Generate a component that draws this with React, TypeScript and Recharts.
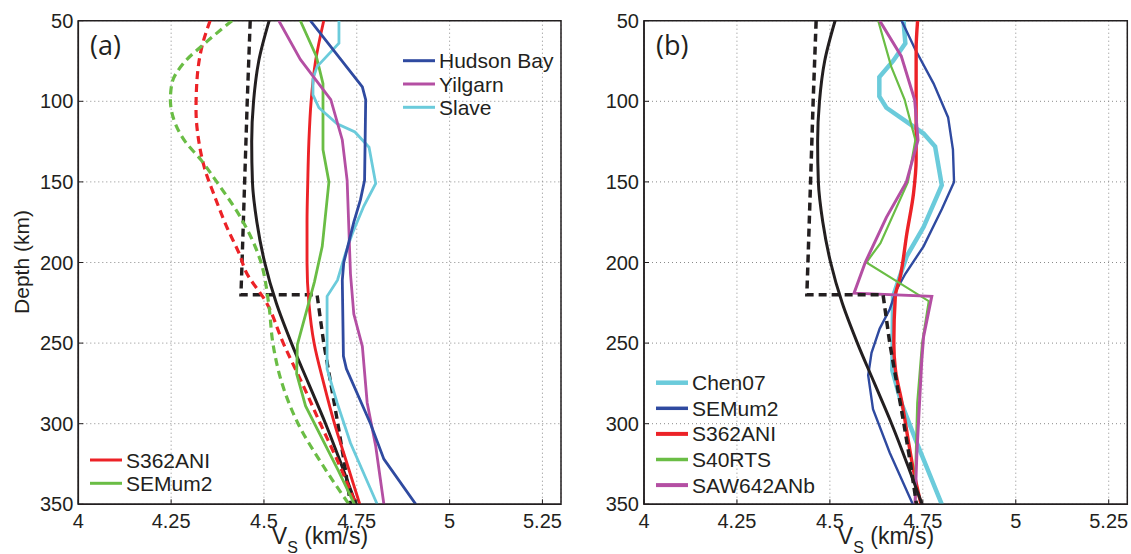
import React from 'react';
import { LineChart, Line, XAxis, YAxis, CartesianGrid, ReferenceArea } from 'recharts';

// Axis ticks
const DEPTH_TICKS = [50, 100, 150, 200, 250, 300, 350];
const VS_TICKS = [4, 4.25, 4.5, 4.75, 5, 5.25];

// Each series: [depth (km), Vs (km/s)]
const REF_SMOOTH: [number, number][] = [
  [50, 4.514], [75, 4.486], [100, 4.472], [125, 4.467], [150, 4.469], [175, 4.481], [200, 4.502],
  [225, 4.533], [250, 4.574], [275, 4.62], [300, 4.666], [325, 4.708], [350, 4.748],
];
const REF_LAYERED: [number, number][] = [
  [50, 4.463], [100, 4.455], [150, 4.448], [200, 4.441], [220, 4.438], [220, 4.643],
  [250, 4.661], [275, 4.68], [300, 4.699], [325, 4.717], [350, 4.733],
];

// Panel (a)
const A_RED_DASHED: [number, number][] = [
  [50, 4.355], [66, 4.333], [89, 4.319], [105, 4.317], [124, 4.324], [143, 4.342], [157, 4.364],
  [178, 4.4], [196, 4.436], [205, 4.45], [225, 4.507], [250, 4.552], [275, 4.603], [300, 4.652],
  [325, 4.702], [350, 4.748],
];
const A_GREEN_DASHED: [number, number][] = [
  [50, 4.414], [63, 4.346], [76.5, 4.283], [89, 4.252], [99, 4.248], [113.7, 4.261], [125, 4.288],
  [136, 4.329], [150, 4.373], [173.6, 4.441], [198.5, 4.49], [226, 4.513], [250, 4.524],
  [273, 4.546], [300, 4.592], [326.7, 4.661], [350, 4.729],
];
const A_S362ANI: [number, number][] = [
  [50, 4.661], [75, 4.639], [100, 4.627], [125, 4.621], [150, 4.618], [175, 4.616], [200, 4.616],
  [225, 4.621], [250, 4.635], [275, 4.661], [300, 4.69], [325, 4.724], [350, 4.758],
];
const A_SEMUM2: [number, number][] = [
  [50, 4.598], [72, 4.641], [89, 4.659], [130, 4.659], [150, 4.675], [190, 4.657], [212, 4.636],
  [251, 4.59], [269, 4.588], [289, 4.612], [329, 4.7], [350, 4.744],
];
const A_HUDSON_BAY: [number, number][] = [
  [50, 4.625], [91, 4.765], [99, 4.774], [149, 4.771], [161, 4.76], [175, 4.742], [200, 4.715],
  [211, 4.711], [258, 4.714], [266, 4.722], [300, 4.787], [322, 4.823], [350, 4.909],
];
const A_YILGARN: [number, number][] = [
  [50, 4.54], [74, 4.598], [99, 4.68], [124, 4.711], [149, 4.724], [207, 4.733], [232, 4.742],
  [252, 4.765], [287, 4.778], [314, 4.801], [350, 4.823],
];
const A_SLAVE: [number, number][] = [
  [50, 4.702], [64, 4.702], [78.5, 4.643], [86, 4.632], [96, 4.632], [104, 4.648], [114, 4.697],
  [119, 4.745], [128.5, 4.783], [151, 4.801], [165, 4.769], [182, 4.738], [194, 4.72], [211, 4.698],
  [221, 4.67], [266, 4.67], [287, 4.697], [312, 4.733], [350, 4.805],
];

// Panel (b)
const B_CHEN07: [number, number][] = [
  [50, 4.698], [64, 4.703], [75, 4.67], [85, 4.633], [97, 4.633], [104, 4.652], [120, 4.752],
  [128, 4.783], [152, 4.801], [178, 4.752], [196, 4.707], [210, 4.686], [221, 4.67], [267, 4.668],
  [287, 4.692], [312, 4.734], [350, 4.801],
];
const B_SEMUM2: [number, number][] = [
  [50, 4.693], [68, 4.73], [89, 4.779], [110, 4.818], [130, 4.831], [150, 4.834], [167, 4.801],
  [190, 4.752], [207, 4.703], [217, 4.679], [229, 4.661], [241, 4.634], [256, 4.612], [270, 4.603],
  [291, 4.616], [318, 4.661], [350, 4.723],
];
const B_S362ANI: [number, number][] = [
  [50, 4.736], [68, 4.732], [100, 4.732], [136, 4.732], [157, 4.725], [182, 4.707], [209, 4.689],
  [221, 4.676], [250, 4.672], [266, 4.676], [287, 4.694], [312, 4.712], [329, 4.725], [350, 4.745],
];
const B_S40RTS: [number, number][] = [
  [50, 4.63], [78.5, 4.665], [99, 4.701], [124, 4.73], [150, 4.71], [188, 4.636], [200, 4.598],
  [224, 4.766], [250, 4.748], [287, 4.735], [329, 4.73], [350, 4.73],
];
const B_SAW642ANB: [number, number][] = [
  [50, 4.634], [72, 4.692], [99, 4.728], [124, 4.737], [150, 4.706], [172, 4.652], [200, 4.595],
  [219, 4.565], [221, 4.774], [246, 4.752], [261, 4.747], [318, 4.734], [350, 4.729],
];

const LEGEND_A_TOP = ['Hudson Bay', 'Yilgarn', 'Slave'];
const LEGEND_A_BOTTOM = ['S362ANI', 'SEMum2'];
const LEGEND_B = ['Chen07', 'SEMum2', 'S362ANI', 'S40RTS', 'SAW642ANb'];

const C = {
  red: '#ec2227',
  green: '#6abd45',
  blue: '#2f4aa0',
  magenta: '#b44fa3',
  cyan: '#6bcbdb',
  black: '#231f20',
};
const FONT = "'Liberation Sans', Arial, Helvetica, sans-serif";

type Series = {
  key: string;
  pts: [number, number][];
  color: string;
  width: number;
  dash?: string;
  curve: 'linear' | 'monotoneY';
};

const rows = (pts: [number, number][]) => pts.map(([d, v]) => ({ d, v }));

const SERIES_A: Series[] = [
  { key: 'refSmooth', pts: REF_SMOOTH, color: C.black, width: 3, curve: 'monotoneY' },
  { key: 'refLayered', pts: REF_LAYERED, color: C.black, width: 3.4, dash: '8 5', curve: 'linear' },
  { key: 'redDashed', pts: A_RED_DASHED, color: C.red, width: 3.2, dash: '8 5', curve: 'monotoneY' },
  { key: 'greenDashed', pts: A_GREEN_DASHED, color: C.green, width: 3.2, dash: '8 5', curve: 'monotoneY' },
  { key: 's362', pts: A_S362ANI, color: C.red, width: 2.9, curve: 'monotoneY' },
  { key: 'semum2', pts: A_SEMUM2, color: C.green, width: 2.8, curve: 'linear' },
  { key: 'slave', pts: A_SLAVE, color: C.cyan, width: 2.8, curve: 'linear' },
  { key: 'yilgarn', pts: A_YILGARN, color: C.magenta, width: 2.8, curve: 'linear' },
  { key: 'hudson', pts: A_HUDSON_BAY, color: C.blue, width: 2.8, curve: 'linear' },
];

const SERIES_B: Series[] = [
  { key: 'chen07', pts: B_CHEN07, color: C.cyan, width: 4.5, curve: 'linear' },
  { key: 'semum2', pts: B_SEMUM2, color: C.blue, width: 2.4, curve: 'linear' },
  { key: 's362', pts: B_S362ANI, color: C.red, width: 3.4, curve: 'monotoneY' },
  { key: 's40rts', pts: B_S40RTS, color: C.green, width: 2.2, curve: 'linear' },
  { key: 'saw642', pts: B_SAW642ANB, color: C.magenta, width: 3, curve: 'linear' },
  { key: 'refSmooth', pts: REF_SMOOTH, color: C.black, width: 3, curve: 'monotoneY' },
  { key: 'refLayered', pts: REF_LAYERED, color: C.black, width: 3.5, dash: '8 5', curve: 'linear' },
];

const tickStyle = { fill: C.black, fontSize: 20, fontFamily: FONT };
const tickLineStyle = { stroke: C.black, strokeWidth: 1 };

function Panel(props: { series: Series[]; width: number; yAxisWidth: number; right: number }) {
  const { series, width, yAxisWidth, right } = props;
  return (
    <LineChart
      layout="vertical"
      width={width}
      height={554}
      margin={{ top: 20.7, right, bottom: 19.7, left: 0 }}
    >
      <CartesianGrid stroke="#8a8a8a" strokeDasharray="1 3" strokeWidth={1} />
      <XAxis
        type="number"
        dataKey="v"
        domain={[4, 5.3]}
        ticks={VS_TICKS}
        allowDataOverflow
        height={30}
        tick={tickStyle}
        tickSize={-5}
        tickMargin={14}
        tickLine={tickLineStyle}
        axisLine={{ stroke: C.black, strokeWidth: 1.5 }}
      />
      <XAxis
        xAxisId="top"
        orientation="top"
        type="number"
        dataKey="v"
        domain={[4, 5.3]}
        ticks={VS_TICKS}
        allowDataOverflow
        height={0}
        tick={false}
        tickSize={-5}
        tickLine={tickLineStyle}
        axisLine={{ stroke: C.black, strokeWidth: 1.5 }}
      />
      <YAxis
        type="number"
        dataKey="d"
        domain={[50, 350]}
        ticks={DEPTH_TICKS}
        allowDataOverflow
        width={yAxisWidth}
        tick={tickStyle}
        tickSize={-5}
        tickMargin={10}
        tickLine={tickLineStyle}
        axisLine={{ stroke: C.black, strokeWidth: 1.5 }}
      />
      <YAxis
        yAxisId="right"
        orientation="right"
        type="number"
        dataKey="d"
        domain={[50, 350]}
        ticks={DEPTH_TICKS}
        allowDataOverflow
        width={0}
        tick={false}
        tickSize={-5}
        tickLine={tickLineStyle}
        axisLine={{ stroke: C.black, strokeWidth: 1.5 }}
      />
      {series.map((s) => (
        <Line
          key={s.key}
          data={rows(s.pts)}
          dataKey="v"
          type={s.curve}
          stroke={s.color}
          strokeWidth={s.width}
          strokeDasharray={s.dash}
          dot={false}
          activeDot={false}
          isAnimationActive={false}
        />
      ))}
      <ReferenceArea
        x1={4}
        x2={5.3}
        y1={50}
        y2={350}
        fill="none"
        fillOpacity={0}
        stroke={C.black}
        strokeWidth={1.5}
        ifOverflow="visible"
      />
    </LineChart>
  );
}

function LegendRows(props: { x: number; y0: number; step: number; names: string[]; colors: string[]; widths: number[] }) {
  const { x, y0, step, names, colors, widths } = props;
  return (
    <g>
      {names.map((n, i) => {
        const y = y0 + i * step;
        return (
          <g key={n}>
            <line x1={x} x2={x + 32} y1={y} y2={y} stroke={colors[i]} strokeWidth={widths[i]} />
            <text x={x + 36} y={y + 7.5} fontSize={21} fontFamily={FONT} fill={C.black}>
              {n}
            </text>
          </g>
        );
      })}
    </g>
  );
}

function XLabel(props: { cx: number }) {
  return (
    <text x={props.cx} y={544} textAnchor="middle" fontSize={23} fontFamily={FONT} fill={C.black}>
      <tspan>V</tspan>
      <tspan dy={9} fontSize={16}>S</tspan>
      <tspan dy={-9}> (km/s)</tspan>
    </text>
  );
}

export default function App() {
  return (
    <div style={{ position: 'absolute', left: 0, top: 0, width: 1131, height: 554, background: '#fff' }}>
      <div style={{ position: 'absolute', left: 0, top: 0 }}>
        <Panel series={SERIES_A} width={570} yAxisWidth={78.3} right={9} />
      </div>
      <div style={{ position: 'absolute', left: 570, top: 0 }}>
        <Panel series={SERIES_B} width={561} yAxisWidth={74} right={3.7} />
      </div>
      <svg
        width={1131}
        height={554}
        style={{ position: 'absolute', left: 0, top: 0, pointerEvents: 'none' }}
      >
        <text x={90} y={55} fontSize={27} fontFamily="'Open Sans', sans-serif" fill={C.black}>(a)</text>
        <text x={656} y={55} fontSize={27} fontFamily="'Open Sans', sans-serif" fill={C.black}>(b)</text>
        <text
          x={29}
          y={262}
          transform="rotate(-90 29 262)"
          textAnchor="middle"
          fontSize={21}
          fontFamily={FONT}
          fill={C.black}
        >
          Depth (km)
        </text>
        <XLabel cx={320} />
        <XLabel cx={886} />
        <LegendRows
          x={403}
          y0={60.7}
          step={23.3}
          names={LEGEND_A_TOP}
          colors={[C.blue, C.magenta, C.cyan]}
          widths={[3, 3, 3]}
        />
        <LegendRows
          x={90}
          y0={460}
          step={23.3}
          names={LEGEND_A_BOTTOM}
          colors={[C.red, C.green]}
          widths={[3, 3]}
        />
        <LegendRows
          x={656}
          y0={382.7}
          step={25.6}
          names={LEGEND_B}
          colors={[C.cyan, C.blue, C.red, C.green, C.magenta]}
          widths={[4.5, 3.5, 4, 3.5, 4]}
        />
      </svg>
    </div>
  );
}
